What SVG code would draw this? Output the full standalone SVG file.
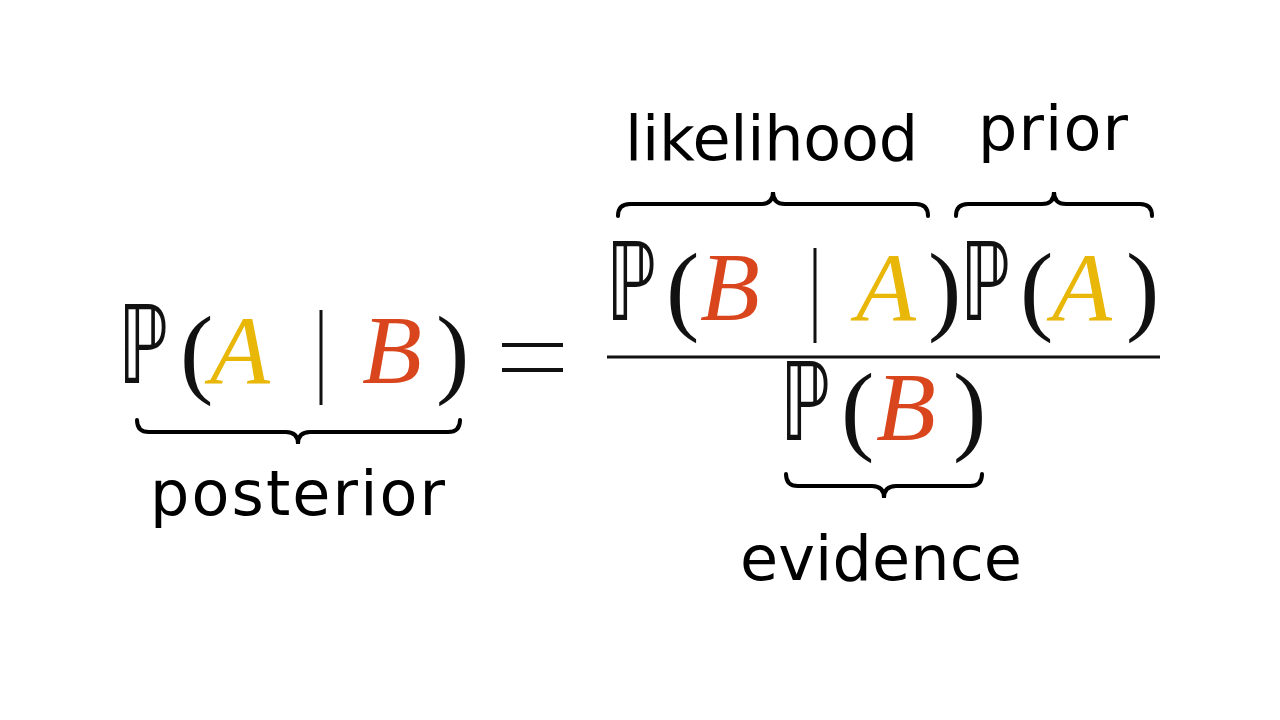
<svg xmlns="http://www.w3.org/2000/svg" width="1280" height="720" viewBox="0 0 1280 720">
<style>
.m{font-family:"DejaVu Sans","Liberation Serif",serif;font-size:108px;fill:#111}
.i{font-family:"Liberation Serif",serif;font-style:italic;font-size:98px}
.a{fill:#E8B708}.b{fill:#D9461E}
.p{font-family:"Liberation Serif",serif;font-size:100px;fill:#111}
.l{font-family:"DejaVu Sans","Noto Sans",sans-serif;font-size:62px;fill:#000}
.br{fill:none;stroke:#000;stroke-width:4;stroke-linecap:round}
</style>
<rect width="1280" height="720" fill="#fff"/>
<g id="posterior-expr">
<text class="m" x="118" y="383" textLength="50" lengthAdjust="spacingAndGlyphs">ℙ</text>
<text class="p" x="180" y="385">(</text>
<text class="i a" x="210" y="383">A</text>
<line x1="321" y1="310" x2="321" y2="405" stroke="#111" stroke-width="3"/>
<text class="i b" x="362" y="383">B</text>
<text class="p" x="436" y="385">)</text>
</g>
<g id="equals"><line x1="502" y1="345" x2="563" y2="345" stroke="#111" stroke-width="4"/><line x1="502" y1="370" x2="563" y2="370" stroke="#111" stroke-width="4"/></g>
<g id="numerator">
<text class="m" x="606" y="320" textLength="50" lengthAdjust="spacingAndGlyphs">ℙ</text>
<text class="p" x="666" y="322">(</text>
<text class="i b" x="700" y="320">B</text>
<line x1="815" y1="248" x2="815" y2="343" stroke="#111" stroke-width="3"/>
<text class="i a" x="856" y="320">A</text>
<text class="p" x="928" y="322">)</text>
<text class="m" x="960" y="320" textLength="50" lengthAdjust="spacingAndGlyphs">ℙ</text>
<text class="p" x="1020" y="322">(</text>
<text class="i a" x="1052" y="320">A</text>
<text class="p" x="1126" y="322">)</text>
</g>
<line id="fraction" x1="607" y1="357" x2="1160" y2="357" stroke="#111" stroke-width="3"/>
<g id="denominator">
<text class="m" x="780" y="440" textLength="50" lengthAdjust="spacingAndGlyphs">ℙ</text>
<text class="p" x="841" y="442">(</text>
<text class="i b" x="876" y="440">B</text>
<text class="p" x="953" y="442">)</text>
</g>
<g id="braces">
<path class="br" d="M137 420 Q137 432 149 432 L286 432 Q298 432 298 444 Q298 432 310 432 L448 432 Q460 432 460 420"/>
<path class="br" d="M618 216 Q618 204 630 204 L761 204 Q773 204 773 192 Q773 204 785 204 L916 204 Q928 204 928 216"/>
<path class="br" d="M956 216 Q956 204 968 204 L1042 204 Q1054 204 1054 192 Q1054 204 1066 204 L1140 204 Q1152 204 1152 216"/>
<path class="br" d="M786 474 Q786 486 798 486 L872 486 Q884 486 884 498 Q884 486 896 486 L970 486 Q982 486 982 474"/>
</g>
<g id="labels">
<text class="l" x="150" y="515" textLength="295">posterior</text>
<text class="l" x="625" y="160" textLength="293">likelihood</text>
<text class="l" x="978" y="150" textLength="150">prior</text>
<text class="l" x="740" y="580" textLength="282">evidence</text>
</g>
</svg>
